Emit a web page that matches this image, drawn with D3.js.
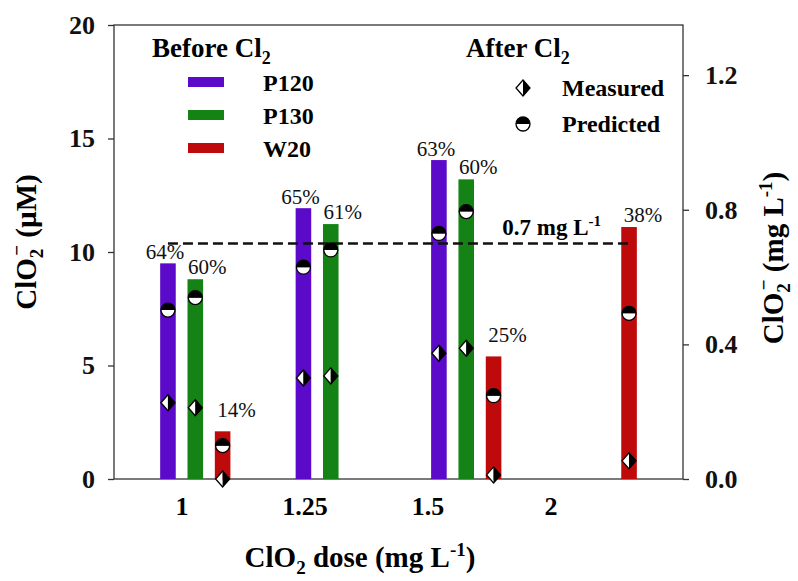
<!DOCTYPE html>
<html><head><meta charset="utf-8"><script src="https://cdn.jsdelivr.net/npm/d3@7"></script></head>
<body style="margin:0">
<svg id="chart" width="798" height="581"></svg>
<script>
// ClO2 doses on the x axis
const doses = ["1", "1.25", "1.5", "2"];
const series = ["P120", "P130", "W20"];
const seriesColors = ["#5a0ac8", "#148214", "#be0a0a"];

// chlorite before Cl2 (uM), bars
const beforeP120 = [9.5, 11.93, 14.05, null];
const beforeP130 = [8.8, 11.23, 13.2, null];
const beforeW20 = [2.1, null, 5.4, 11.1];

// after Cl2 (uM), measured points
const measuredP120 = [3.36, 4.45, 5.54, null];
const measuredP130 = [3.14, 4.54, 5.76, null];
const measuredW20 = [0, null, 0.18, 0.8];

// after Cl2 (uM), predicted points
const predictedP120 = [7.44, 9.33, 10.82, null];
const predictedP130 = [7.99, 10.09, 11.78, null];
const predictedW20 = [1.47, null, 3.67, 7.3];

// percentage labels over the bars
const pctP120 = ["64%", "65%", "63%", null];
const pctP130 = ["60%", "61%", "60%", null];
const pctW20 = ["14%", null, "25%", "38%"];

const limitMgL = 0.7;
const mgPerUmol = 0.06745; // ClO2- mg/L per uM

const leftTicks = [0, 5, 10, 15, 20];
const rightTicks = [0, 0.4, 0.8, 1.2];

const beforeVals = [beforeP120, beforeP130, beforeW20];
const measuredVals = [measuredP120, measuredP130, measuredW20];
const predictedVals = [predictedP120, predictedP130, predictedW20];
const pctVals = [pctP120, pctP130, pctW20];

const FONT = '"Liberation Serif"';

const margin = {top: 25, right: 115, bottom: 102, left: 114};
const width = 798 - margin.left - margin.right;
const height = 581 - margin.top - margin.bottom;

const svg = d3.select("#chart");
const g = svg.append("g").attr("transform", `translate(${margin.left},${margin.top})`);

const x = d3.scalePoint().domain(doses).range([0, width]).padding(0.6);
const xs = d3.scaleBand().domain(series).range([-41, 41]).paddingInner(0.43).paddingOuter(0.215);
const xLabel = d3.scalePoint().domain(doses).range([68, 437]); // tick labels sit left of the groups
const y = d3.scaleLinear().domain([0, 20]).range([height, 0]);
const yR = d3.scaleLinear().domain([0, 20 * mgPerUmol]).range([height, 0]);
const color = d3.scaleOrdinal().domain(series).range(seriesColors);

// flatten into rows
const rows = [];
series.forEach((s, i) => {
  doses.forEach((d, j) => {
    rows.push({series: s, dose: d, before: beforeVals[i][j], measured: measuredVals[i][j],
               predicted: predictedVals[i][j], pct: pctVals[i][j]});
  });
});
const cx = d => x(d.dose) + xs(d.series) + xs.bandwidth() / 2;

// frame
g.append("rect").attr("width", width).attr("height", height)
  .attr("fill", "none").attr("stroke", "#333").attr("stroke-width", 1.3);

// left axis
const yAxis = g.append("g").call(d3.axisLeft(y).tickValues(leftTicks).tickSize(6).tickPadding(13));
yAxis.select(".domain").remove();
yAxis.selectAll("line").attr("stroke", "#333").attr("stroke-width", 1.3);
yAxis.selectAll("text").attr("font-size", 26).attr("font-weight", "bold").attr("fill", "#111");

// right axis
const yAxisR = g.append("g").attr("transform", `translate(${width},0)`)
  .call(d3.axisRight(yR).tickValues(rightTicks).tickFormat(d3.format(".1f")).tickSize(6).tickPadding(16));
yAxisR.select(".domain").remove();
yAxisR.selectAll("line").attr("stroke", "#333").attr("stroke-width", 1.3);
yAxisR.selectAll("text").attr("font-size", 26).attr("font-weight", "bold").attr("fill", "#111");

// x tick labels
g.append("g").selectAll("text").data(doses).join("text")
  .attr("x", d => xLabel(d)).attr("y", height + 36)
  .attr("text-anchor", "middle").attr("font-size", 26).attr("font-weight", "bold")
  .text(d => d);

// bars
g.append("g").selectAll("rect").data(rows.filter(d => d.before != null)).join("rect")
  .attr("x", d => x(d.dose) + xs(d.series))
  .attr("width", xs.bandwidth())
  .attr("y", d => y(d.before))
  .attr("height", d => y(0) - y(d.before))
  .attr("fill", d => color(d.series));

// 0.7 mg/L limit line, from first P120 bar to last W20 bar
const lineX0 = x(doses[0]) + xs("P120") + xs.bandwidth() / 2;
const lineX1 = x(doses[3]) + xs("W20") + xs.bandwidth() / 2;
g.append("line")
  .attr("x1", lineX0).attr("x2", lineX1)
  .attr("y1", yR(limitMgL)).attr("y2", yR(limitMgL))
  .attr("stroke", "#111").attr("stroke-width", 2.5).attr("stroke-dasharray", "10,5");
const limitText = g.append("text")
  .attr("x", x("1.5") + 36).attr("y", yR(limitMgL) - 8)
  .attr("font-size", 23).attr("font-weight", "bold");
limitText.append("tspan").text(limitMgL + " mg L");
limitText.append("tspan").attr("dy", -9).attr("font-size", 15).text("-1");

// percentage labels
const pctNudge = {P120: [-3, -4], P130: [12, -5], W20: [14, -14]};
g.append("g").selectAll("text").data(rows.filter(d => d.pct != null)).join("text")
  .attr("x", d => cx(d) + pctNudge[d.series][0])
  .attr("y", d => y(d.before) + (d.series === "W20" && d.before > 8 ? -5 : pctNudge[d.series][1]))
  .attr("text-anchor", "middle").attr("font-size", 21).attr("fill", "#111")
  .text(d => d.pct);

// marker drawers
const R = 7;
function predictedMarker(sel) {
  sel.append("path").attr("d", `M${-R},0 A${R},${R} 0 0 0 ${R},0 Z`).attr("fill", "#fff");
  sel.append("path").attr("d", `M${-R},0 A${R},${R} 0 0 1 ${R},0 Z`).attr("fill", "#000");
  sel.append("circle").attr("r", R).attr("fill", "none").attr("stroke", "#000").attr("stroke-width", 1.3);
}
const DW = 7, DH = 8;
function measuredMarker(sel) {
  sel.append("path").attr("d", `M0,${-DH} L${-DW},0 L0,${DH} Z`).attr("fill", "#fff");
  sel.append("path").attr("d", `M0,${-DH} L${DW},0 L0,${DH} Z`).attr("fill", "#000");
  sel.append("path").attr("d", `M0,${-DH} L${DW},0 L0,${DH} L${-DW},0 Z`)
    .attr("fill", "none").attr("stroke", "#000").attr("stroke-width", 1.3);
}

g.append("g").selectAll("g").data(rows.filter(d => d.predicted != null)).join("g")
  .attr("transform", d => `translate(${cx(d)},${y(d.predicted)})`)
  .each(function() { predictedMarker(d3.select(this)); });

g.append("g").selectAll("g").data(rows.filter(d => d.measured != null)).join("g")
  .attr("transform", d => `translate(${cx(d)},${y(d.measured)})`)
  .each(function() { measuredMarker(d3.select(this)); });

// legend: before Cl2
const legL = g.append("g").attr("transform", "translate(38,0)");
const beforeTitle = legL.append("text").attr("x", 0).attr("y", 32)
  .attr("font-size", 27).attr("font-weight", "bold");
beforeTitle.append("tspan").text("Before Cl");
beforeTitle.append("tspan").attr("dy", 7).attr("font-size", 18).text("2");
series.forEach((s, i) => {
  const row = legL.append("g").attr("transform", `translate(0,${57 + i * 33})`);
  row.append("rect").attr("x", 36).attr("y", -5).attr("width", 36).attr("height", 10)
    .attr("fill", color(s));
  row.append("text").attr("x", 111).attr("y", 9).attr("font-size", 24).attr("font-weight", "bold")
    .text(s);
});

// legend: after Cl2
const legR = g.append("g").attr("transform", "translate(352,0)");
const afterTitle = legR.append("text").attr("x", 0).attr("y", 32)
  .attr("font-size", 27).attr("font-weight", "bold");
afterTitle.append("tspan").text("After Cl");
afterTitle.append("tspan").attr("dy", 7).attr("font-size", 18).text("2");
const legItems = [["Measured", measuredMarker], ["Predicted", predictedMarker]];
legItems.forEach(([label, draw], i) => {
  const row = legR.append("g").attr("transform", `translate(0,${63 + i * 36})`);
  draw(row.append("g").attr("transform", "translate(57,0)"));
  row.append("text").attr("x", 96).attr("y", 8).attr("font-size", 24).attr("font-weight", "bold")
    .text(label);
});

// axis titles
const xTitle = svg.append("text")
  .attr("x", 360).attr("y", 567).attr("text-anchor", "middle")
  .attr("font-size", 29).attr("font-weight", "bold");
xTitle.append("tspan").text("ClO");
xTitle.append("tspan").attr("dy", 7).attr("font-size", 19).text("2");
xTitle.append("tspan").attr("dy", -7).text(" dose (mg L");
xTitle.append("tspan").attr("dy", -11).attr("font-size", 19).text("-1");
xTitle.append("tspan").attr("dy", 11).text(")");

function chloriteTitle(sel, unit, unitSup) {
  sel.append("tspan").text("ClO");
  sel.append("tspan").attr("dy", 7).attr("font-size", 19).text("2");
  sel.append("tspan").attr("dx", -7).attr("dy", -20).attr("font-size", 19).text("\u2212");
  sel.append("tspan").attr("dy", 13).text(" (" + unit);
  if (unitSup) {
    sel.append("tspan").attr("dy", -11).attr("font-size", 19).text(unitSup);
    sel.append("tspan").attr("dy", 11).text(")");
  } else {
    sel.append("tspan").text(")");
  }
}

const yTitle = svg.append("text")
  .attr("transform", "translate(36,242) rotate(-90)")
  .attr("text-anchor", "middle").attr("font-size", 29).attr("font-weight", "bold");
chloriteTitle(yTitle, "\u00b5M", null);

const yTitleR = svg.append("text")
  .attr("transform", "translate(783,258) rotate(-90)")
  .attr("text-anchor", "middle").attr("font-size", 29).attr("font-weight", "bold");
chloriteTitle(yTitleR, "mg L", "-1");

// Times-like face for every label
svg.selectAll("g").attr("font-family", null);
svg.selectAll("text").style("font-family", FONT);
</script></body></html>
